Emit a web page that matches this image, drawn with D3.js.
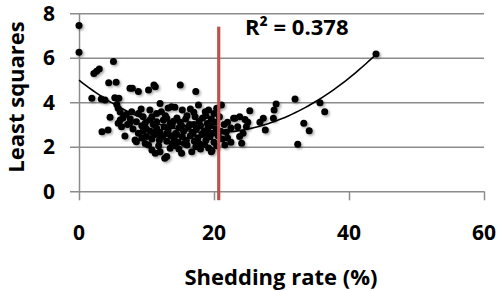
<!DOCTYPE html>
<html>
<head>
<meta charset="utf-8">
<script src="https://cdn.jsdelivr.net/npm/d3@7"></script>
<style>
  html, body { margin: 0; padding: 0; background: #fff; }
  #chart { width: 498px; height: 291px; }
  text { font-family: "Open Sans", "DejaVu Sans", sans-serif; font-weight: 700; fill: #000; }
</style>
</head>
<body>
<div id="chart"></div>
<script>
// shedding rate (%) of each sample
const shedX = [
  0, 0, 2.2, 2.6, 3.0, 5.1, 4.4, 5.5, 1.9, 3.3, 3.85, 5.3, 5.9, 5.6, 5.8, 6.1, 4.6, 6.1, 7.0, 7.8,
  3.4, 4.3, 6.8, 5.8, 7.55, 7.9, 8.8, 10.3, 11.3, 11.1, 15, 17.3, 17.7,
  8.8, 9.5, 10.5, 10.8, 12, 12.2, 13, 13.2, 13.7, 14.2, 15.3, 16.5, 18.7, 19.2, 20.4, 21.1, 20.0, 17.0, 9.2, 11.5,
  8.5, 9.8, 11.5, 12.5, 13.5, 14.5, 15.0, 15.8, 16.4, 17.2, 17.8, 18.3, 19.0, 19.6, 20.2, 20.8, 10.5, 11.0, 12.8, 14.0, 16.0, 18.8, 9.3, 7.5, 22.9, 23.8, 21.5,
  8.8, 10.0, 10.6, 11.5, 12.0, 12.6, 13.2, 13.8, 14.3, 14.8, 15.5, 16.2, 16.8, 17.4, 18.0, 18.5, 19.1, 19.7, 20.3, 21.0, 21.8, 22.5, 9.5, 11.0, 13.0, 15.2, 17.0, 19.5, 8.0,
  8.3, 8.5, 10.0, 10.8, 11.3, 11.9, 12.4, 13.0, 13.6, 14.1, 14.7, 15.3, 15.9, 16.5, 17.1, 17.6, 18.2, 18.8, 19.4, 20.0, 20.6, 21.2, 22.0, 9.3, 12.0, 14.5, 16.9, 19.0,
  10.3, 10.8, 11.3, 12.0, 12.7, 13.0, 13.5, 14.2, 14.8, 15.2, 16.0, 16.7, 17.3, 18.0, 18.6, 19.2, 19.7, 19.6, 20.4, 21.6, 11.8, 13.8, 15.6, 17.8, 9.8,
  24.1, 23.8, 24.3, 25.3, 23.1, 24.6, 24.8, 27.3, 27.6, 28.8, 28.9, 29.2, 32, 32.4, 33.3, 34.1, 35.7, 36.4, 44, 22.5, 23.5, 25.0, 26.8, 22.0,
  6.5, 7.2, 6.3, 7.6
];
// least squares value of each sample
const lsqY = [
  7.45, 6.25, 5.3, 5.4, 5.5, 5.83, 4.88, 4.9, 4.18, 4.15, 4.1, 4.2, 4.18, 3.9, 3.73, 3.56, 3.33, 3.2, 3.45, 3.58,
  2.68, 2.75, 2.49, 3.06, 4.63, 4.63, 4.48, 4.55, 4.7, 4.78, 4.78, 4.48, 3.88,
  3.5, 3.35, 3.65, 3.35, 3.95, 3.58, 3.28, 3.74, 3.8, 3.78, 3.65, 3.7, 3.58, 3.65, 3.73, 3.88, 3.5, 3.55, 3.7, 3.5,
  3.13, 3.06, 3.13, 3.2, 3.05, 3.3, 3.1, 3.25, 3.0, 3.35, 3.15, 3.3, 3.05, 3.25, 3.1, 3.35, 3.2, 3.0, 3.4, 3.15, 3.4, 3.4, 2.95, 3.05, 3.28, 3.35, 3.0,
  2.61, 2.8, 2.7, 2.83, 2.65, 2.9, 2.75, 2.95, 2.6, 2.85, 2.7, 2.9, 2.65, 2.8, 2.95, 2.7, 2.85, 2.6, 2.8, 2.7, 2.65, 2.85, 2.7, 2.6, 2.6, 2.95, 3.0, 2.95, 2.8,
  2.31, 2.23, 2.46, 2.35, 2.55, 2.3, 2.45, 2.25, 2.5, 2.35, 2.2, 2.45, 2.3, 2.5, 2.25, 2.4, 2.55, 2.3, 2.45, 2.2, 2.5, 2.35, 2.4, 2.4, 2.5, 2.55, 2.6, 2.58,
  2.08, 1.86, 1.71, 1.78, 1.48, 1.56, 1.93, 2.05, 1.9, 1.71, 2.08, 1.78, 2.0, 1.9, 2.1, 1.95, 1.83, 1.78, 2.05, 2.08, 2.05, 2.15, 2.15, 2.15, 2.15,
  2.16, 2.46, 2.61, 3.62, 3.28, 3.23, 2.9, 3.28, 2.76, 3.28, 3.65, 3.92, 4.15, 2.11, 3.06, 2.72, 3.98, 3.58, 6.17, 2.2, 2.9, 3.1, 3.1, 3.1,
  3.3, 3.0, 2.9, 3.25
];
const xTicks = [0, 20, 40, 60];
const yTicks = [0, 2, 4, 6, 8];
const cutoffX = 20.7;          // red reference line
const cutoffRange = [-0.4, 7.4];
const r2Label = "R² = 0.378";

const points = shedX.map((x, i) => ({ x, y: lsqY[i] }));

// quadratic least-squares trend (like Excel's polynomial trendline)
function fitQuadratic(pts) {
  let s = [0, 0, 0, 0, 0], t = [0, 0, 0];
  pts.forEach(p => {
    let xp = 1;
    for (let k = 0; k < 5; k++) { s[k] += xp; if (k < 3) t[k] += xp * p.y; xp *= p.x; }
  });
  const A = [[s[0], s[1], s[2], t[0]], [s[1], s[2], s[3], t[1]], [s[2], s[3], s[4], t[2]]];
  for (let i = 0; i < 3; i++) {
    for (let j = i + 1; j < 3; j++) {
      const f = A[j][i] / A[i][i];
      for (let k = i; k < 4; k++) A[j][k] -= f * A[i][k];
    }
  }
  const c = [0, 0, 0];
  for (let i = 2; i >= 0; i--) {
    let v = A[i][3];
    for (let k = i + 1; k < 3; k++) v -= A[i][k] * c[k];
    c[i] = v / A[i][i];
  }
  return x => c[0] + c[1] * x + c[2] * x * x;
}

const W = 498, H = 291;

const svg = d3.select("#chart").append("svg")
  .attr("width", W).attr("height", H);

const defs = svg.append("defs");
const f = defs.append("filter").attr("id", "shadow")
  .attr("x", "-50%").attr("y", "-50%").attr("width", "200%").attr("height", "200%");
f.append("feDropShadow").attr("dx", 1.5).attr("dy", 1.5).attr("stdDeviation", 1)
  .attr("flood-color", "#000").attr("flood-opacity", 0.35);

const x = d3.scaleLinear().domain([0, 60]).range([79, 484]);
const y = d3.scaleLinear().domain([0, 8]).range([191.3, 13.3]);

// horizontal gridlines + y ticks
svg.append("g")
  .attr("transform", `translate(${x(0)},0)`)
  .call(d3.axisLeft(y).tickValues(yTicks).tickSize(-(x(60) - x(0))).tickSizeOuter(0).tickPadding(0).tickFormat(""))
  .call(g => g.select(".domain").attr("stroke", "#8c8c8c").attr("stroke-width", 1.5))
  .call(g => g.selectAll(".tick line").attr("stroke", "#8c8c8c").attr("stroke-width", 1.5).attr("x1", -9));

// y tick labels
svg.append("g").selectAll("text").data(yTicks).join("text")
  .attr("x", 55).attr("y", d => y(d)).attr("dy", "0.36em")
  .attr("text-anchor", "end").attr("font-size", 21)
  .text(d => d);

// x ticks
svg.append("g")
  .attr("transform", `translate(0,${y(0)})`)
  .call(d3.axisBottom(x).tickValues(xTicks).tickSize(9).tickSizeOuter(0).tickFormat(""))
  .call(g => g.select(".domain").remove())
  .call(g => g.selectAll(".tick line").attr("stroke", "#8c8c8c").attr("stroke-width", 1.5));

svg.append("g").selectAll("text").data(xTicks).join("text")
  .attr("x", d => x(d)).attr("y", 240)
  .attr("text-anchor", "middle").attr("font-size", 21)
  .text(d => d);

// axis titles
svg.append("text")
  .attr("x", 281).attr("y", 285)
  .attr("text-anchor", "middle").attr("font-size", 22)
  .text("Shedding rate (%)");

svg.append("text")
  .attr("transform", "translate(24,97) rotate(-90)")
  .attr("text-anchor", "middle").attr("font-size", 22)
  .text("Least squares");

// scatter points
svg.append("g").attr("filter", "url(#shadow)")
  .selectAll("circle").data(points).join("circle")
  .attr("cx", d => x(d.x)).attr("cy", d => y(d.y))
  .attr("r", 3.5).attr("fill", "#000");

// trendline
const trend = fitQuadratic(points);
const xMax = d3.max(shedX);
const trendPts = d3.range(0, xMax + 0.01, 0.5).map(v => [v, trend(v)]);
svg.append("path")
  .datum(trendPts)
  .attr("fill", "none").attr("stroke", "#000").attr("stroke-width", 1.6)
  .attr("d", d3.line().x(d => x(d[0])).y(d => y(d[1])));

// red cut-off line
svg.append("line")
  .attr("x1", x(cutoffX)).attr("x2", x(cutoffX))
  .attr("y1", y(cutoffRange[1])).attr("y2", y(cutoffRange[0]))
  .attr("stroke", "#c0504d").attr("stroke-width", 3.2);

svg.append("text")
  .attr("x", 245).attr("y", 35).attr("font-size", 22)
  .text(r2Label);
</script>
</body>
</html>
